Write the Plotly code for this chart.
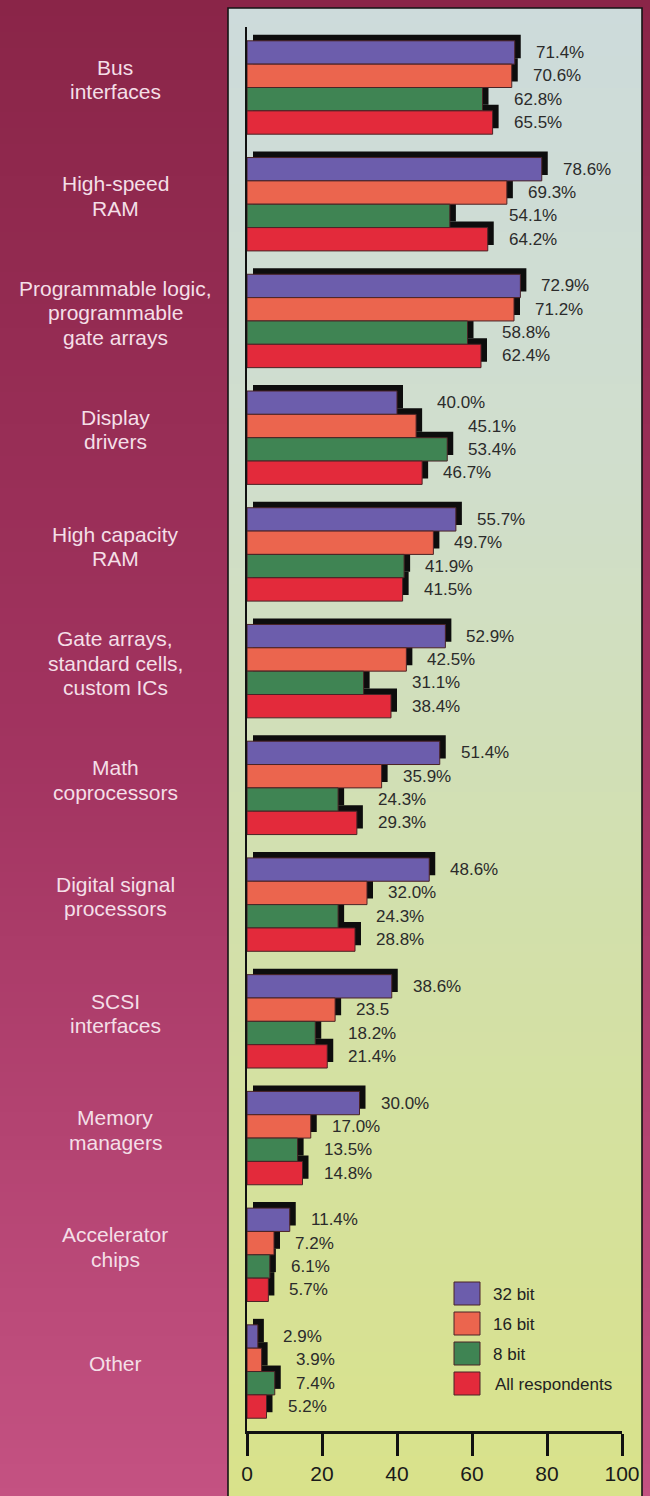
import plotly.graph_objects as go

W, H = 650, 1496

# ---- data -------------------------------------------------------------
categories = [
    "Bus interfaces", "High-speed RAM",
    "Programmable logic, programmable gate arrays", "Display drivers",
    "High capacity RAM", "Gate arrays, standard cells, custom ICs",
    "Math coprocessors", "Digital signal processors", "SCSI interfaces",
    "Memory managers", "Accelerator chips", "Other",
]
category_lines = [
    ["Bus", "interfaces"], ["High-speed", "RAM"],
    ["Programmable logic,", "programmable", "gate arrays"],
    ["Display", "drivers"], ["High capacity", "RAM"],
    ["Gate arrays,", "standard cells,", "custom ICs"],
    ["Math", "coprocessors"], ["Digital signal", "processors"],
    ["SCSI", "interfaces"], ["Memory", "managers"],
    ["Accelerator", "chips"], ["Other"],
]

series_names = ["32 bit", "16 bit", "8 bit", "All respondents"]
bit32 = [71.4, 78.6, 72.9, 40.0, 55.7, 52.9, 51.4, 48.6, 38.6, 30.0, 11.4, 2.9]
bit16 = [70.6, 69.3, 71.2, 45.1, 49.7, 42.5, 35.9, 32.0, 23.5, 17.0, 7.2, 3.9]
bit8 = [62.8, 54.1, 58.8, 53.4, 41.9, 31.1, 24.3, 24.3, 18.2, 13.5, 6.1, 7.4]
all_resp = [65.5, 64.2, 62.4, 46.7, 41.5, 38.4, 29.3, 28.8, 21.4, 14.8, 5.7, 5.2]
series_values = [bit32, bit16, bit8, all_resp]

# value labels printed without a percent sign
no_percent = {("16 bit", "SCSI interfaces")}

x_ticks = [0, 20, 40, 60, 80, 100]

# ---- styling ------------------------------------------------------------
series_colors = ["#6c5dac", "#eb654e", "#3f8453", "#e32a3b"]
outline = "#4a2326"
shadow = "#0d0d0d"
label_font = "Liberation Sans, Arial, Helvetica, sans-serif"
tick_font = "Liberation Sans Narrow, Arial Narrow, Liberation Sans, Arial, sans-serif"

# geometry (pixels)
x0_px, x100_px = 247, 622
ytop_px, ybot_px = 27, 1431
cat0_px, cat_pitch = 87.5, 116.73
bar_w = 0.2
shadow_dx_px, shadow_dy_px = 6, 6

px_per_unit_x = (x100_px - x0_px) / 100.0
y_range = [(ybot_px - cat0_px) / cat_pitch, (ytop_px - cat0_px) / cat_pitch]


def px(x):
    return x / W


def py(y):
    return 1 - y / H


def lerp_color(stops, t):
    for (t0, c0), (t1, c1) in zip(stops, stops[1:]):
        if t <= t1:
            f = 0 if t1 == t0 else (t - t0) / (t1 - t0)
            rgb = [round(a + (b - a) * f) for a, b in zip(c0, c1)]
            return "rgb(%d,%d,%d)" % tuple(rgb)
    return "rgb(%d,%d,%d)" % stops[-1][1]


def gradient_band(x_left, x_right, y_top, y_bottom, stops, step=8):
    shapes = []
    y = y_top
    while y < y_bottom:
        y2 = min(y + step, y_bottom)
        t = (y - y_top) / (y_bottom - y_top)
        shapes.append(dict(
            type="rect", xref="paper", yref="paper", layer="below",
            x0=px(x_left), x1=px(x_right), y0=py(min(y2 + 1, y_bottom)), y1=py(y),
            fillcolor=lerp_color(stops, t), line=dict(width=0),
        ))
        y = y2
    return shapes


fig = go.Figure()

offsets = [-2 * bar_w + k * bar_w for k in range(4)]

# drop shadows first so the coloured bars sit on top of them
for k, vals in enumerate(series_values):
    fig.add_trace(go.Bar(
        y=categories, x=vals, base=shadow_dx_px / px_per_unit_x,
        orientation="h", width=bar_w,
        offset=offsets[k] - shadow_dy_px / cat_pitch,
        marker=dict(color=shadow, line=dict(width=0)),
        showlegend=False, hoverinfo="skip",
    ))

for k, (name, vals) in enumerate(zip(series_names, series_values)):
    fig.add_trace(go.Bar(
        y=categories, x=vals, name=name, orientation="h",
        width=bar_w, offset=offsets[k],
        marker=dict(color=series_colors[k], line=dict(color=outline, width=1)),
        showlegend=False,
    ))

annotations = []

# value labels, kept clear of the next bar's shadow
for k, (name, vals) in enumerate(zip(series_names, series_values)):
    for i, v in enumerate(vals):
        anchor = v
        if k < 3:
            anchor = max(v, series_values[k + 1][i])
        txt = f"{v:.1f}" if (name, categories[i]) in no_percent else f"{v:.1f}%"
        annotations.append(dict(
            x=anchor, y=i + offsets[k] + bar_w / 2, xref="x", yref="y",
            text=txt, showarrow=False, xanchor="left", yanchor="middle",
            xshift=19, font=dict(family=label_font, size=17, color="#2b2b2b"),
        ))

# category names on the left panel
line_gap = 24.5
for i, lines in enumerate(category_lines):
    n = len(lines)
    for j, line in enumerate(lines):
        annotations.append(dict(
            x=px(115), y=i, xref="paper", yref="y", text=line,
            showarrow=False, xanchor="center", yanchor="middle",
            yshift=8 - (j - (n - 1) / 2) * line_gap,
            font=dict(family=label_font, size=21, color="#f4dfe7"),
        ))

# legend
legend_top = 1282
legend_pitch = 30
legend_shapes = []
for k, name in enumerate(series_names):
    top = legend_top + k * legend_pitch
    legend_shapes.append(dict(
        type="rect", xref="paper", yref="paper",
        x0=px(454), x1=px(480), y0=py(top + 23), y1=py(top),
        fillcolor=series_colors[k], line=dict(color=outline, width=1),
    ))
    annotations.append(dict(
        x=px(491 if k < 3 else 493), y=py(top + 12), xref="paper", yref="paper",
        text=name, showarrow=False, xanchor="left", yanchor="middle",
        font=dict(family=label_font, size=17, color="#222222"),
    ))

# backgrounds: crimson surround and the pale chart panel
shapes = []
shapes += gradient_band(0, W, 0, H, [
    (0.0, (138, 37, 72)), (0.5, (162, 52, 96)), (1.0, (196, 82, 130)),
])
shapes += gradient_band(228, 642, 8, H, [
    (0.0, (205, 219, 219)), (0.3, (208, 222, 205)), (0.6, (210, 224, 172)),
    (1.0, (217, 226, 138)),
])
shapes.append(dict(
    type="path", xref="paper", yref="paper", layer="below",
    path=f"M {px(228)} {py(H)} L {px(228)} {py(8)} L {px(642)} {py(8)} L {px(642)} {py(H)}",
    line=dict(color="#141414", width=1.6),
))
shapes += legend_shapes

fig.update_layout(
    width=W, height=H,
    margin=dict(l=0, r=0, t=0, b=0, pad=0, autoexpand=False),
    paper_bgcolor="#8a2548",
    plot_bgcolor="rgba(0,0,0,0)",
    barmode="overlay",
    showlegend=False,
    shapes=shapes,
    annotations=annotations,
    xaxis=dict(
        domain=[px(x0_px), px(x100_px)], range=[0, 100],
        tickmode="array", tickvals=x_ticks, ticktext=[str(t) for t in x_ticks],
        ticks="outside", ticklen=22, tickwidth=3, tickcolor="#111111",
        showline=True, linewidth=3, linecolor="#111111",
        showgrid=False, zeroline=False, automargin=False,
        tickfont=dict(family=tick_font, size=21, color="#1a1a1a"),
        fixedrange=True,
    ),
    yaxis=dict(
        domain=[py(ybot_px), py(ytop_px)], range=y_range,
        type="category", categoryorder="array", categoryarray=categories,
        showticklabels=False, ticks="", automargin=False,
        showline=True, linewidth=2, linecolor="#111111",
        showgrid=False, zeroline=False, fixedrange=True,
    ),
)

fig.write_html("out.html")
